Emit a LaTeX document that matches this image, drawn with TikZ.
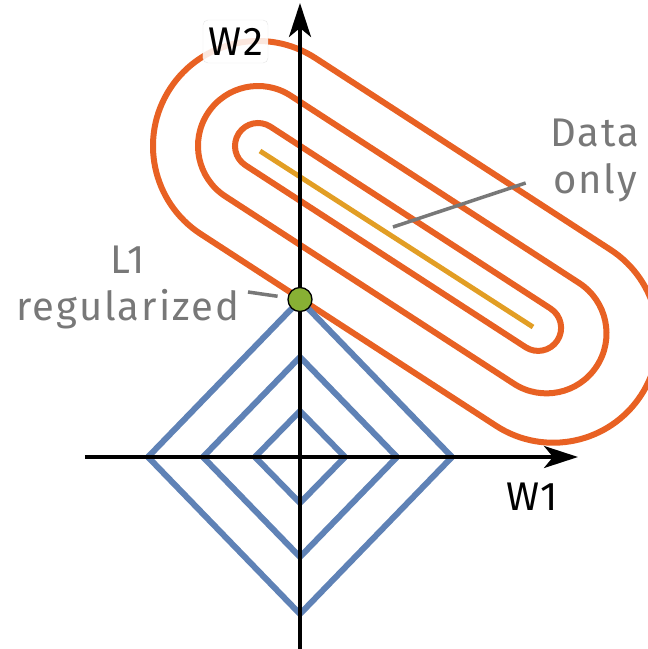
\documentclass[tikz,border=0pt]{standalone}
\usepackage{fontspec}
\setmainfont{Fira Sans}[LetterSpace=5]
\usetikzlibrary{arrows.meta}

\definecolor{contourorange}{RGB}{232,97,35}
\definecolor{lassoblue}{RGB}{95,130,182}
\definecolor{datayellow}{RGB}{226,158,36}
\definecolor{optgreen}{RGB}{136,176,52}
\definecolor{notegray}{RGB}{120,120,120}

\begin{document}
\begin{tikzpicture}[
    x=1pt, y=1pt,
    axis/.style={line width=3.5pt, -{Stealth[length=34pt, width=22pt, inset=9pt]}},
    contour/.style={contourorange, line width=6pt},
    lasso/.style={lassoblue, line width=6pt},
    note/.style={text=notegray, font=\fontsize{40}{47}\selectfont, inner sep=0pt, align=center},
    pointer/.style={notegray, line width=3.5pt},
  ]
  \useasboundingbox (-300,-192) rectangle (348,457);

  % 1. Loss contours of the data term round the data-only solutions
  \begin{scope}[shift={(-42,311)}, rotate=-33]
    \foreach \r/\l in {23/334, 60/344, 105/352}
      \draw[contour] (0,\r) -- (\l,\r) arc[start angle=90, end angle=-90, radius=\r]
        -- (0,-\r) arc[start angle=270, end angle=90, radius=\r] -- cycle;
  \end{scope}
  \draw[datayellow, line width=5pt] (-40,306) -- (233,130);

  % 2. L1 balls |w1| + |w2| = const
  \foreach \a/\b in {45/46, 97/100, 152/157}
    \draw[lasso] (-\a,0) -- (0,\b) -- (\a,0) -- (0,-\b) -- cycle;

  % 3. Coordinate axes
  \draw[axis] (-215,0) -- (278,0);
  \draw[axis] (0,-192) -- (0,454);
  \node[font=\fontsize{40}{47}\selectfont, inner sep=0pt] (w1) at (232,-40) {W1};
  \node[font=\fontsize{40}{47}\selectfont, fill=white, fill opacity=0.85, text opacity=1,
        draw=black!10, rounded corners=5pt, minimum width=65pt, minimum height=43pt,
        inner sep=0pt] (w2) at (-64.5,415.5) {W2};

  % 4. Solution where the smallest diamond touches the contour
  \node[circle, fill=optgreen, draw=black, line width=1.3pt, minimum size=24pt, inner sep=0pt] (opt) at (0,157.5) {};

  % 5. Labels
  \node[note] (l1lab) at (-172,170) {L1\\regularized};
  \coordinate (l1tail) at (-52,165);
  \draw[pointer, shorten >=10pt] (l1tail) -- (opt);

  \node[note] (datalab) at (295,297) {Data\\only};
  \coordinate (datapt) at (93,230);
  \draw[pointer, shorten <=73pt] (datalab.center) -- (datapt);
\end{tikzpicture}
\end{document}
